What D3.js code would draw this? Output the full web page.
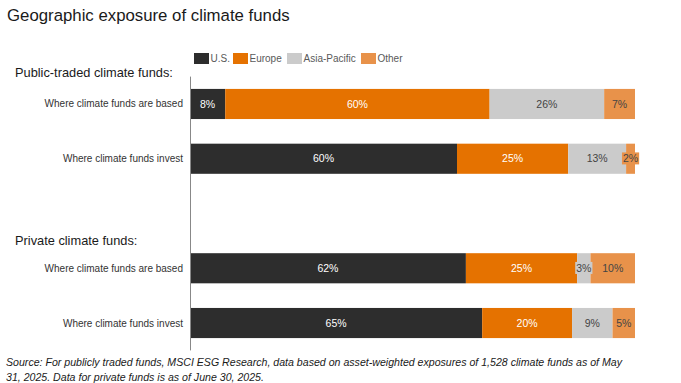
<!DOCTYPE html>
<html>
<head>
<meta charset="utf-8">
<script src="https://cdn.jsdelivr.net/npm/d3@7"></script>
<style>
  body { margin: 0; background: #fff; }
  svg { display: block; font-family: "Liberation Sans", Arial, sans-serif; }
</style>
</head>
<body>
<svg id="chart" width="681" height="383"></svg>
<script>
// data
const regions = ["U.S.", "Europe", "Asia-Pacific", "Other"];
const rows = ["pub-based", "pub-invest", "gap", "priv-based", "priv-invest"];
const rowLabels = ["Where climate funds are based", "Where climate funds invest", "", "Where climate funds are based", "Where climate funds invest"];
const usVals = [8, 60, null, 62, 65];
const europeVals = [60, 25, null, 25, 20];
const asiaVals = [26, 13, null, 3, 9];
const otherVals = [7, 2, null, 10, 5];
const groupTitles = ["Public-traded climate funds:", "Private climate funds:"];

const colors = ["#2d2d2d", "#e57200", "#cbcbcb", "#e8924a"];
const textColors = ["#ffffff", "#ffffff", "#444444", "#444444"];

const svg = d3.select("#chart");

const table = rows.map((r, i) => ({
    row: r, label: rowLabels[i],
    "U.S.": usVals[i], "Europe": europeVals[i], "Asia-Pacific": asiaVals[i], "Other": otherVals[i]
})).filter(d => d["U.S."] != null);

// 100% stacked
const series = d3.stack().keys(regions).offset(d3.stackOffsetExpand)(table);

const x = d3.scaleLinear().domain([0, 1]).range([190, 635]);
const y = d3.scaleBand().domain(rows).range([76.6, 350.4]).paddingInner(0.45).paddingOuter(0.225);

// title
svg.append("text").attr("x", 7).attr("y", 21)
    .attr("font-size", 16.8).attr("fill", "#1a1a1a")
    .text("Geographic exposure of climate funds");

// legend
const legend = svg.append("g").attr("class", "legend");
const legendX = [194, 233, 287, 361];
regions.forEach((r, i) => {
    legend.append("rect").attr("x", legendX[i]).attr("y", 53).attr("width", 15).attr("height", 11)
        .attr("fill", colors[i]);
    legend.append("text").attr("x", legendX[i] + 16.5).attr("y", 62)
        .attr("font-size", 10).attr("fill", "#595959").text(r);
});

// group headings
svg.append("text").attr("x", 15).attr("y", 77).attr("font-size", 12.8).attr("fill", "#1a1a1a").text(groupTitles[0]);
svg.append("text").attr("x", 15).attr("y", 245).attr("font-size", 12.8).attr("fill", "#1a1a1a").text(groupTitles[1]);

// row labels
svg.append("g").selectAll("text")
    .data(table)
    .join("text")
    .attr("x", 183)
    .attr("y", d => y(d.row) + y.bandwidth() / 2)
    .attr("dy", "0.35em")
    .attr("text-anchor", "end")
    .attr("font-size", 10)
    .attr("fill", "#333")
    .text(d => d.label);

// bars
const layers = svg.append("g").selectAll("g")
    .data(series)
    .join("g")
    .attr("fill", (d, i) => colors[i]);

layers.selectAll("rect")
    .data(d => d)
    .join("rect")
    .attr("x", d => x(d[0]))
    .attr("y", d => y(d.data.row))
    .attr("width", d => x(d[1]) - x(d[0]))
    .attr("height", y.bandwidth());

// value labels
series.forEach((s, i) => {
    s.forEach(d => {
        const cx = (x(d[0]) + x(d[1])) / 2;
        const cy = y(d.data.row) + y.bandwidth() / 2;
        const w = x(d[1]) - x(d[0]);
        const g = svg.append("g");
        const t = g.append("text")
            .attr("x", cx).attr("y", cy).attr("dy", "0.35em")
            .attr("text-anchor", "middle")
            .attr("font-size", 10.5)
            .attr("fill", textColors[i])
            .text(d.data[s.key] + "%");
        const bb = t.node().getBBox();
        if (bb.width > w) {
            g.insert("rect", "text")
                .attr("x", bb.x - 1).attr("y", bb.y)
                .attr("width", bb.width + 2).attr("height", bb.height)
                .attr("fill", colors[i]);
        }
    });
});

// axis line
svg.append("line")
    .attr("x1", 190.5).attr("x2", 190.5)
    .attr("y1", y.range()[0]).attr("y2", y.range()[1])
    .attr("stroke", "#888").attr("stroke-width", 1);

// source note
const src = svg.append("text").attr("font-size", 10.6).attr("font-style", "italic").attr("fill", "#1a1a1a");
src.append("tspan").attr("x", 6).attr("y", 366)
    .text("Source: For publicly traded funds, MSCI ESG Research, data based on asset-weighted exposures of 1,528 climate funds as of May");
src.append("tspan").attr("x", 6).attr("y", 381)
    .text("31, 2025. Data for private funds is as of June 30, 2025.");
</script>
</body>
</html>
